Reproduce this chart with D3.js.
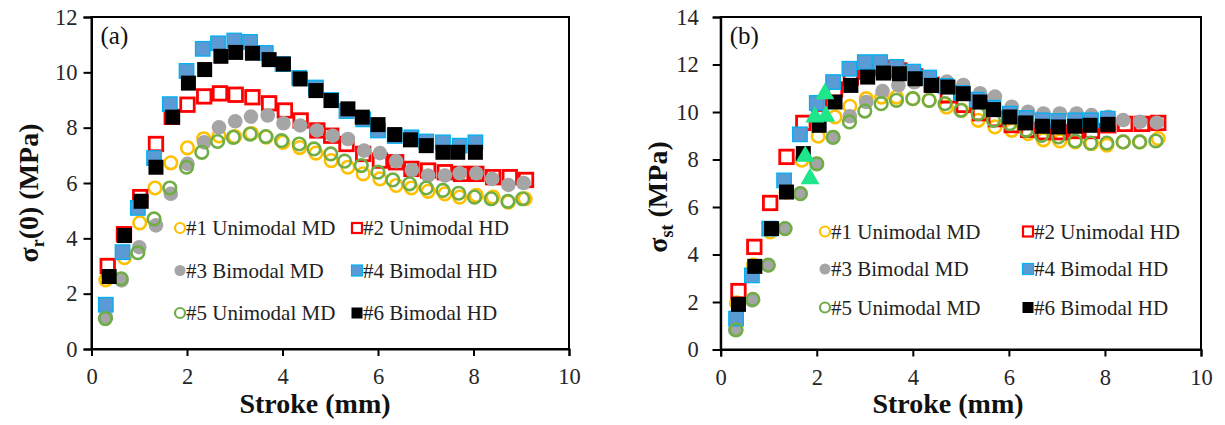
<!DOCTYPE html>
<html>
<head>
<meta charset="utf-8">
<script src="https://cdn.jsdelivr.net/npm/d3@7"></script>
<style>
  html, body { margin: 0; padding: 0; background: #fff; }
  svg { display: block; font-family: "Liberation Serif", "Times New Roman", serif; }
</style>
</head>
<body>
<svg id="chart" width="1225" height="425"></svg>
<script>
// ---- Panel (a): σr(0) vs stroke ----
const aStroke1 = [0.30,0.69,1.01,1.33,1.66,2.01,2.35,2.67,3.00,3.35,3.66,4.01,4.36,4.70,5.02,5.37,5.69,6.04,6.38,6.70,7.05,7.40,7.71,8.06,8.41,8.73,9.08];
const aStress1 = [2.5,3.3,4.56,5.82,6.73,7.27,7.6,7.7,7.68,7.79,7.66,7.47,7.28,7.08,6.81,6.57,6.33,6.15,5.91,5.82,5.7,5.61,5.49,5.55,5.49,5.31,5.43];
const aStroke2 = [0.34,0.68,1.02,1.35,1.68,2.01,2.36,2.69,3.02,3.37,3.72,4.05,4.38,4.73,5.02,5.34,5.69,6.04,6.38,6.70,7.05,7.40,7.74,8.06,8.41,8.76,9.10];
const aStress2 = [3.0,4.15,5.49,7.41,8.39,8.83,9.13,9.24,9.19,9.1,8.88,8.62,8.26,7.9,7.71,7.41,7.05,6.81,6.75,6.51,6.45,6.39,6.33,6.33,6.21,6.21,6.11];
const aStroke3 = [0.30,0.63,1.00,1.35,1.66,2.01,2.36,2.67,3.01,3.34,3.69,4.02,4.37,4.72,5.05,5.37,5.71,6.04,6.38,6.71,7.05,7.40,7.71,8.06,8.39,8.73,9.05];
const aStress3 = [1.16,2.48,3.68,4.47,5.61,6.69,7.47,8.01,8.23,8.4,8.44,8.16,8.08,7.9,7.71,7.59,7.17,7.08,6.79,6.47,6.27,6.27,6.35,6.35,6.15,5.93,6.0];
const aStroke4 = [0.30,0.65,0.97,1.31,1.64,1.99,2.33,2.65,2.99,3.32,3.65,4.00,4.35,4.70,5.02,5.34,5.69,6.00,6.35,6.70,7.01,7.36,7.71,8.04];
const aStress4 = [1.6,3.5,5.1,6.9,8.85,10.05,10.85,11.05,11.15,11.1,10.7,10.3,9.8,9.45,9.0,8.6,8.3,7.9,7.7,7.65,7.5,7.47,7.35,7.47];
const aStroke5 = [0.29,0.62,0.97,1.31,1.64,1.99,2.31,2.64,2.97,3.32,3.65,3.98,4.35,4.66,5.01,5.30,5.65,6.00,6.31,6.66,7.01,7.36,7.69,8.02,8.37,8.72,9.03];
const aStress5 = [1.1,2.54,3.48,4.7,5.82,6.57,7.11,7.5,7.65,7.77,7.68,7.53,7.41,7.23,7.05,6.79,6.63,6.39,6.11,5.97,5.82,5.73,5.63,5.49,5.43,5.34,5.43];
const aStroke6 = [0.37,0.69,1.04,1.35,1.70,2.03,2.37,2.71,3.02,3.37,3.72,4.02,4.37,4.70,5.02,5.37,5.67,6.00,6.35,6.68,7.01,7.36,7.67,8.04];
const aStress6 = [2.62,4.1,5.34,6.57,8.38,9.61,10.1,10.58,10.72,10.69,10.46,10.3,9.76,9.34,8.98,8.68,8.38,8.11,7.75,7.56,7.35,7.11,7.11,7.11];

// ---- Panel (b): σst vs stroke ----
const bStroke1 = [0.33,0.68,1.03,1.36,1.69,2.03,2.38,2.69,3.03,3.35,3.66,4.00,4.34,4.70,5.02,5.36,5.71,6.06,6.40,6.72,7.06,7.38,7.72,8.04,8.38,8.73,9.11];
const bStress1 = [1.96,3.55,4.95,6.63,7.97,8.98,9.79,10.24,10.56,10.63,10.63,10.56,10.49,10.21,10.07,9.65,9.37,9.23,9.09,8.83,8.78,8.74,8.67,8.6,8.74,8.74,8.88];
const bStroke2 = [0.37,0.70,1.03,1.37,1.72,2.05,2.38,2.71,3.05,3.38,3.72,4.05,4.39,4.73,5.06,5.40,5.73,6.06,6.40,6.73,7.06,7.40,7.73,8.07,8.42,8.77,9.11];
const bStress2 = [2.46,4.32,6.17,8.11,9.54,10.35,10.95,11.45,11.7,11.85,11.75,11.5,11.15,10.7,10.3,9.95,9.7,9.45,9.25,9.15,9.15,9.2,9.2,9.44,9.5,9.5,9.54];
const bStroke3 = [0.30,0.65,0.99,1.34,1.65,2.00,2.34,2.69,3.03,3.37,3.70,4.03,4.37,4.71,5.05,5.40,5.71,6.06,6.40,6.72,7.06,7.41,7.72,8.07,8.38,8.73,9.08];
const bStress3 = [0.83,2.07,3.55,5.09,6.56,7.82,8.95,9.82,10.42,10.88,11.12,11.25,11.3,11.28,11.14,10.79,10.65,10.22,10.01,9.94,9.94,9.94,9.87,9.8,9.66,9.59,9.55];
const bStroke4 = [0.32,0.65,1.01,1.32,1.65,2.00,2.34,2.68,3.00,3.32,3.66,4.01,4.34,4.68,5.02,5.33,5.68,6.02,6.36,6.70,7.03,7.38,7.71,8.06];
const bStress4 = [1.30,3.12,5.09,7.12,9.06,10.38,11.26,11.82,12.1,12.1,11.9,11.7,11.45,11.1,10.8,10.52,10.18,9.93,9.75,9.65,9.62,9.65,9.65,9.72];
const bStroke5 = [0.32,0.67,0.99,1.34,1.66,2.00,2.34,2.68,3.00,3.34,3.66,4.00,4.34,4.67,5.00,5.36,5.68,6.02,6.36,6.68,7.03,7.38,7.70,8.04,8.38,8.72,9.06];
const bStress5 = [0.83,2.11,3.55,5.09,6.56,7.82,8.93,9.58,10.04,10.35,10.49,10.56,10.49,10.35,10.07,9.93,9.65,9.51,9.23,9.02,8.95,8.78,8.69,8.69,8.74,8.74,8.78];
const bStroke6 = [0.37,0.71,1.06,1.37,1.72,2.05,2.38,2.71,3.06,3.39,3.72,4.05,4.39,4.73,5.05,5.40,5.68,6.02,6.35,6.70,7.03,7.37,7.69,8.06];
const bStress6 = [1.9,3.5,5.09,6.63,8.25,9.44,10.42,11.12,11.47,11.64,11.61,11.4,11.12,11.05,10.77,10.42,10.1,9.79,9.54,9.4,9.37,9.4,9.44,9.48];
// extra points drawn as green triangles
const bStrokeTri = [1.76,1.86,1.96,2.17,2.19];
const bStressTri = [8.13,7.19,9.79,10.77,9.82];

const seriesNames = ["#1 Unimodal MD","#2 Unimodal HD","#3 Bimodal MD","#4 Bimodal HD","#5 Unimodal MD","#6 Bimodal HD"];
const xTicks = [0,2,4,6,8,10];
const yTicksA = [0,2,4,6,8,10,12];
const yTicksB = [0,2,4,6,8,10,12,14];

// marker styles per series
const styles = [
  {shape:"circle", fill:"none", stroke:"#FFC000", sw:2.6, size:6.3},
  {shape:"square", fill:"none", stroke:"#FF0000", sw:2.8, size:13.5},
  {shape:"circle", fill:"#A5A5A5", stroke:"none", sw:0, size:7.3},
  {shape:"square", fill:"#5B9BD5", stroke:"#00B0F0", sw:1.3, size:14.5},
  {shape:"circle", fill:"none", stroke:"#70AD47", sw:2.6, size:6.3},
  {shape:"square", fill:"#000000", stroke:"none", sw:0, size:15}
];
const legendStyles = [
  {shape:"circle", fill:"none", stroke:"#FFC000", sw:2.2, size:5},
  {shape:"square", fill:"none", stroke:"#FF0000", sw:2.2, size:10},
  {shape:"circle", fill:"#A5A5A5", stroke:"none", sw:0, size:5.5},
  {shape:"square", fill:"#5B9BD5", stroke:"#00B0F0", sw:1.2, size:11},
  {shape:"circle", fill:"none", stroke:"#70AD47", sw:2.2, size:5},
  {shape:"square", fill:"#000000", stroke:"none", sw:0, size:11}
];

const svg = d3.select("#chart");
svg.append("rect").attr("width",1225).attr("height",425).attr("fill","#fff");

function drawMarker(g, cx, cy, st) {
  if (st.shape === "circle") {
    g.append("circle").attr("cx",cx).attr("cy",cy).attr("r",st.size)
      .attr("fill",st.fill).attr("stroke",st.stroke).attr("stroke-width",st.sw);
  } else {
    g.append("rect").attr("x",cx-st.size/2).attr("y",cy-st.size/2)
      .attr("width",st.size).attr("height",st.size)
      .attr("fill",st.fill).attr("stroke",st.stroke).attr("stroke-width",st.sw);
  }
}

function drawPanel(cfg) {
  const x = d3.scaleLinear().domain([0,10]).range([cfg.left, cfg.right]);
  const y = d3.scaleLinear().domain([0, cfg.yMax]).range([cfg.bottom, cfg.top]);
  const g = svg.append("g");

  // frame
  g.append("rect").attr("x",cfg.left).attr("y",cfg.top)
    .attr("width",cfg.right-cfg.left).attr("height",cfg.bottom-cfg.top)
    .attr("fill","none").attr("stroke","#000").attr("stroke-width",2);

  // axes
  const xAxis = d3.axisBottom(x).tickValues(xTicks).tickSize(7).tickPadding(8).tickFormat(d3.format("d"));
  const yAxis = d3.axisLeft(y).tickValues(cfg.yTicks).tickSize(8).tickPadding(cfg.yPad).tickFormat(d3.format("d"));
  const gx = g.append("g").attr("transform",`translate(0,${cfg.bottom})`).call(xAxis);
  const gy = g.append("g").attr("transform",`translate(${cfg.left},0)`).call(yAxis);
  [gx, gy].forEach(a => {
    a.select(".domain").attr("stroke","#000").attr("stroke-width",2);
    a.selectAll(".tick line").attr("stroke","#000").attr("stroke-width",2);
    a.selectAll(".tick text").attr("fill","#262626").attr("font-size",22.5)
      .attr("font-family","Liberation Serif");
  });
  gx.selectAll(".tick text").attr("dy","0.9em");

  // data points
  const pts = g.append("g");
  cfg.series.forEach((s, i) => {
    const sg = pts.append("g");
    s.x.forEach((v, k) => drawMarker(sg, x(v), y(s.y[k]), styles[i]));
  });
  if (cfg.tri) {
    const tri = d3.symbol().type(d3.symbolTriangle).size(155);
    pts.append("g").selectAll("path").data(cfg.tri.x).join("path")
      .attr("d", tri)
      .attr("transform", (d, k) => `translate(${x(d)},${y(cfg.tri.y[k])})`)
      .attr("fill","#1EE68A");
  }

  // panel letter
  g.append("text").attr("x",cfg.left+9).attr("y",cfg.top+27)
    .attr("font-size",25).attr("fill","#111").text(cfg.letter);

  // legend
  const lg = g.append("g");
  seriesNames.forEach((name, i) => {
    const col = i % 2, row = Math.floor(i / 2);
    const mx = cfg.legX[col], my = cfg.legY[row];
    drawMarker(lg, mx, my, legendStyles[i]);
    lg.append("text").attr("x", mx + 6).attr("y", my + 7)
      .attr("font-size",21).attr("fill","#222").text(name);
  });

  // x title
  g.append("text").attr("x",cfg.xTitleX).attr("y",413).attr("text-anchor","middle")
    .attr("font-size",28).attr("font-weight","bold").attr("fill","#111").text("Stroke (mm)");

  // y title
  const yt = g.append("text")
    .attr("transform",`translate(${cfg.yTitleX},${cfg.yTitleY}) rotate(-90)`)
    .attr("text-anchor","middle").attr("font-size",28).attr("font-weight","bold").attr("fill","#111");
  yt.append("tspan").text("σ");
  yt.append("tspan").attr("font-size",18).attr("dy",6).text(cfg.sub);
  yt.append("tspan").attr("dy",-6).text(cfg.tail);
}

drawPanel({
  left:91.5, right:569, top:17, bottom:349, yMax:12, yTicks:yTicksA, yPad:6,
  letter:"(a)", sub:"r", tail:"(0) (MPa)", yTitleX:38, yTitleY:193, xTitleX:315,
  legX:[180, 357], legY:[228, 270.5, 313],
  series:[
    {x:aStroke1, y:aStress1},{x:aStroke2, y:aStress2},{x:aStroke3, y:aStress3},
    {x:aStroke4, y:aStress4},{x:aStroke5, y:aStress5},{x:aStroke6, y:aStress6}
  ]
});

drawPanel({
  left:720.7, right:1201, top:17, bottom:349.5, yMax:14, yTicks:yTicksB, yPad:14,
  letter:"(b)", sub:"st", tail:" (MPa)", yTitleX:667, yTitleY:197, xTitleX:948,
  legX:[825, 1028], legY:[231.5, 269, 307.5],
  series:[
    {x:bStroke1, y:bStress1},{x:bStroke2, y:bStress2},{x:bStroke3, y:bStress3},
    {x:bStroke4, y:bStress4},{x:bStroke5, y:bStress5},{x:bStroke6, y:bStress6}
  ],
  tri:{x:bStrokeTri, y:bStressTri}
});
</script>
</body>
</html>
